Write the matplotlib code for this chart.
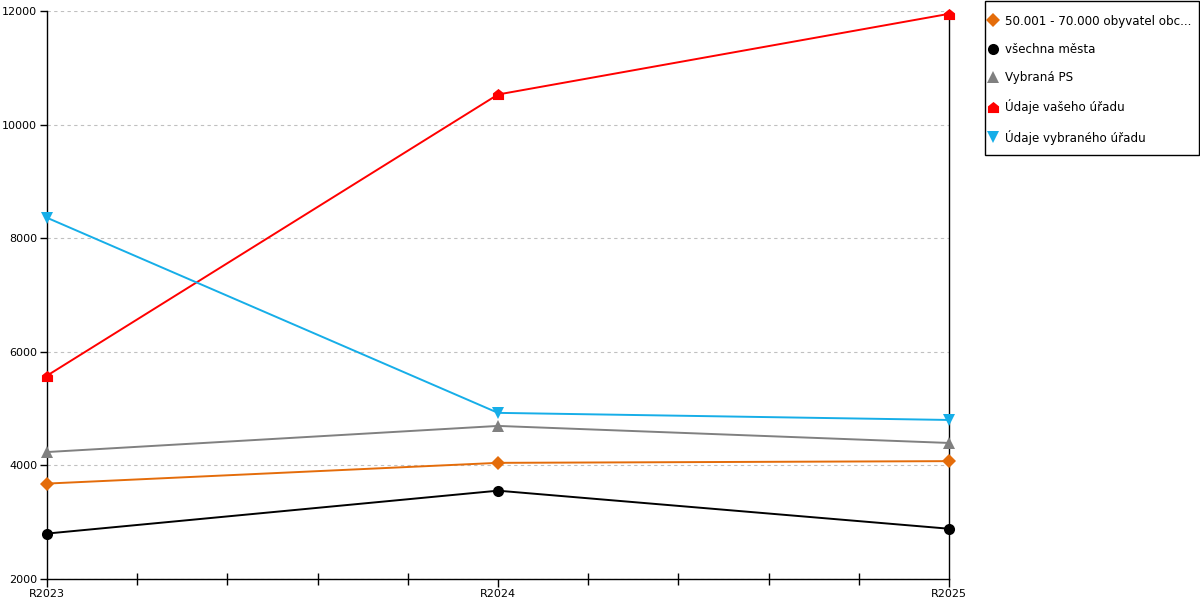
import numpy as np
import matplotlib
matplotlib.use("Agg")
import matplotlib.pyplot as plt
from matplotlib.path import Path
from matplotlib.patches import Rectangle
from matplotlib.ticker import FixedLocator, MultipleLocator

# ---------------------------------------------------------
# data
# ---------------------------------------------------------
years = ["R2023", "R2024", "R2025"]

obce_50_70 = [3680, 4045, 4075]
vsechna_mesta = [2800, 3555, 2885]
vybrana_ps = [4235, 4695, 4395]
vas_urad = [5580, 10530, 11950]
vybrany_urad = [8360, 4925, 4800]

labels = [
    "50.001 - 70.000 obyvatel obc...",
    "všechna města",
    "Vybraná PS",
    "Údaje vašeho úřadu",
    "Údaje vybraného úřadu",
]

# house shaped marker for the red series
house = Path([(-1, -1), (1, -1), (1, 0.2), (0, 1), (-1, 0.2), (-1, -1)],
             [Path.MOVETO, Path.LINETO, Path.LINETO, Path.LINETO, Path.LINETO, Path.CLOSEPOLY])

styles = [
    (obce_50_70, "#e46c0a", "D", 7),
    (vsechna_mesta, "#000000", "o", 8),
    (vybrana_ps, "#808080", "^", 8.5),
    (vas_urad, "#ff0000", house, 8),
    (vybrany_urad, "#16aee8", "v", 8.5),
]

# ---------------------------------------------------------
# plot
# ---------------------------------------------------------
plt.rcParams["font.family"] = ["DejaVu Sans"]
plt.rcParams["font.size"] = 8

fig = plt.figure(figsize=(12, 6), dpi=100)
ax = fig.add_axes([47 / 1200, 21 / 600, 902 / 1200, 568 / 600])

x = np.arange(len(years))
for (vals, color, marker, ms), lab in zip(styles, labels):
    ax.plot(x, vals, color=color, lw=1.4, marker=marker, markersize=ms,
            markeredgewidth=0, label=lab, clip_on=False, zorder=3)

ax.set_xlim(0, len(years) - 1)
ax.set_ylim(2000, 12000)
ax.set_xticks(x)
ax.set_xticklabels(years)
ax.xaxis.set_minor_locator(MultipleLocator(0.2))
ax.yaxis.set_major_locator(FixedLocator([2000, 4000, 6000, 8000, 10000, 12000]))

ax.tick_params(axis="x", which="major", direction="out", length=6, width=1, pad=1)
ax.tick_params(axis="x", which="minor", direction="inout", length=8, width=1)
ax.tick_params(axis="y", direction="out", length=5, width=1, pad=2)

ax.grid(axis="y", color="#c0c0c0", linestyle=(0, (3, 3)), linewidth=0.8)
ax.set_axisbelow(True)
for s in ["left", "bottom", "right"]:
    ax.spines[s].set_linewidth(1.0)
    ax.spines[s].set_color("black")
ax.spines["top"].set_visible(False)

# legend box drawn separately, entries placed inside it
fig.patches.append(Rectangle((985 / 1200, 1 - 155 / 600), 214 / 1200, 154 / 600,
                             transform=fig.transFigure, facecolor="white",
                             edgecolor="black", linewidth=1.0))
leg = fig.legend(loc="upper left", bbox_to_anchor=(988 / 1200, 1 - 14.5 / 600),
                 frameon=False, handlelength=0.9, handletextpad=0.55,
                 labelspacing=1.28, borderpad=0, fontsize=8.6, borderaxespad=0)
for h in leg.legend_handles:
    h.set_linestyle("none")

fig.savefig("out.png", dpi=100)
